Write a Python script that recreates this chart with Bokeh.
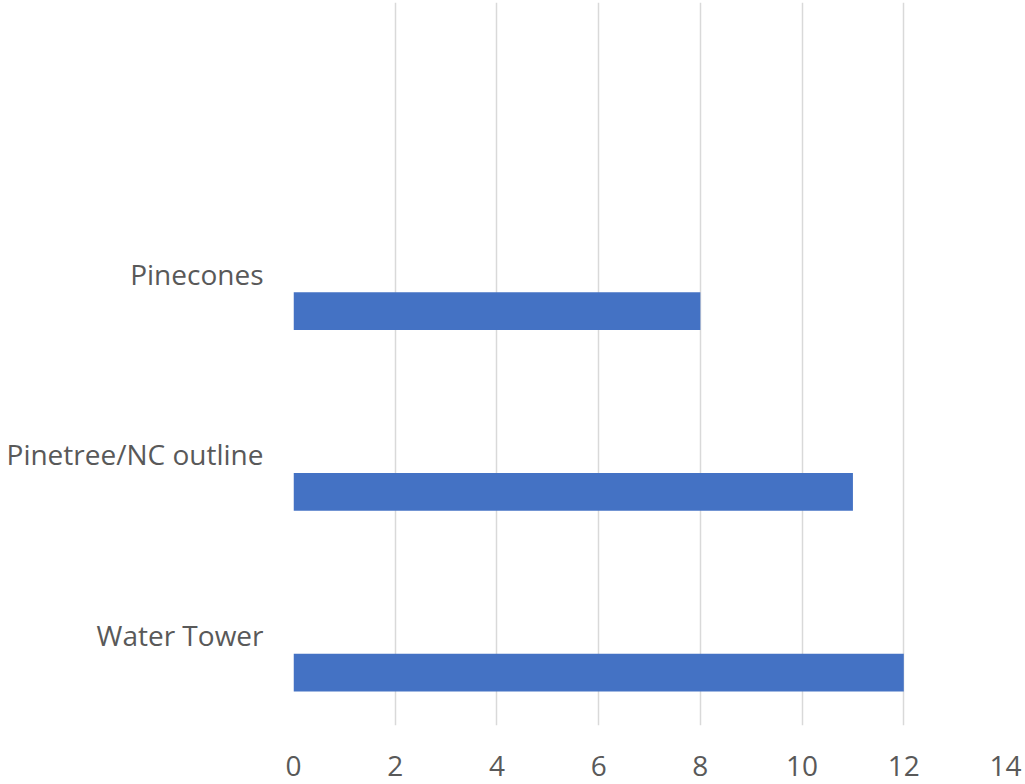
from bokeh.plotting import figure
from bokeh.models import FactorRange, Range1d, FixedTicker, ColumnDataSource
from bokeh.transform import dodge
from bokeh.embed import file_html
from bokeh.resources import INLINE

categories = ["Water Tower", "Pinetree/NC outline", "Pinecones", " "]
values = [12, 11, 8, None]
x_ticks = [0, 2, 4, 6, 8, 10, 12, 14]

src = ColumnDataSource(dict(cat=categories[:3], val=values[:3]))

p = figure(width=1025, height=784, output_backend="svg", toolbar_location=None,
           y_range=FactorRange(factors=categories), x_range=Range1d(0, 14))
p.min_border_left = 293
p.min_border_right = 20
p.min_border_top = 2
p.min_border_bottom = 59
p.outline_line_color = None
p.background_fill_color = "white"
p.border_fill_color = "white"

p.hbar(y=dodge("cat", -0.207, range=p.y_range), right="val", left=0, height=0.209,
       source=src, fill_color="#4472C4", line_color=None)

p.xaxis.ticker = FixedTicker(ticks=x_ticks)
p.xgrid.ticker = FixedTicker(ticks=x_ticks)
p.xgrid.grid_line_color = "#d9d9d9"
p.xgrid.grid_line_width = 1.5
p.ygrid.grid_line_color = None

for ax in (p.xaxis, p.yaxis):
    ax.axis_line_color = None
    ax.major_tick_line_color = None
    ax.minor_tick_line_color = None
    ax.major_tick_out = 0
    ax.major_tick_in = 0
    ax.major_label_text_color = "#595959"
    ax.major_label_text_font = "Open Sans"

p.xaxis.major_label_text_font_size = "28px"
p.xaxis.major_label_standoff = 30
p.yaxis.major_label_text_font_size = "28px"
p.yaxis.major_label_standoff = 30

open("out.html", "w").write(file_html(p, INLINE))
